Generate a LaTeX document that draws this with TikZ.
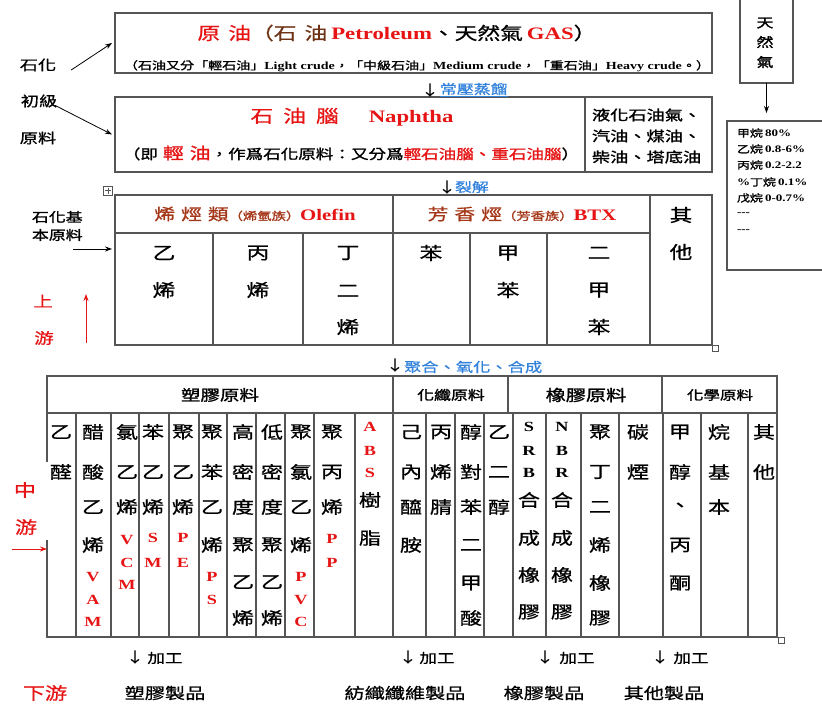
\documentclass[tikz,border=0pt]{standalone}
\usepackage{fontspec}
\setmainfont{Noto Sans CJK TC}[FakeStretch=1.3,FakeBold=0.8]
\newfontfamily\cjb{Noto Sans CJK TC}[FakeStretch=1.3,FakeBold=1.6]
\newfontfamily\lat{Liberation Serif}[FakeStretch=1.3]
\usetikzlibrary{arrows.meta}
\definecolor{myred}{RGB}{230,20,20}
\definecolor{mybrown}{RGB}{165,55,25}
\definecolor{dbrown}{RGB}{110,50,20}
\definecolor{myblue}{RGB}{50,130,220}
\definecolor{lc}{RGB}{85,85,85}
\newcommand\fs[1]{\fontsize{#1}{#1}\selectfont}
\newcommand\RLb[1]{\textcolor{myred}{\lat\bfseries #1}}
\newcommand\RL[1]{{\fs{14}\RLb{#1}}}
\newcommand\BL[1]{{\lat\bfseries #1}}
\newcommand\BLc[1]{{\fs{14}\lat\bfseries #1}}
\newcommand\gap[1]{\hspace{#1pt}}
\newcommand\colt[3]{\foreach \yy/\cc [count=\k] in {#3} {\node[cell] (#1-\k) at (#2,\yy) {\cc};}}
\begin{document}
\begin{tikzpicture}[x=1pt,y=-1pt,
 t/.style={inner sep=0pt,outer sep=0pt},
 cell/.style={t,font=\fs{17}},
 cellb/.style={t,font=\fs{17.5}},
 frame/.style={draw=lc,line width=1.1pt,inner sep=0pt,outer sep=0pt,anchor=north west},
 tl/.style={draw=lc,line width=1.1pt},
 arr/.style={-{Stealth[length=7pt,width=5pt]},line width=0.8pt},
 rarr/.style={arr,draw=myred,fill=myred},
]
\useasboundingbox (0,0) rectangle (822,704);

% ---------- box 1: crude oil
\node[frame,minimum width=597pt,minimum height=60pt] (crude) at (115,13) {};
\node[t,font=\fs{17.5}] (crudeT) at (397,33) {\color{myred}原\gap{8}油\color{dbrown}（石\gap{8}油\gap{4}\RLb{Petroleum}\color{black}、天然氣\gap{4}\RLb{GAS}）};
\node[t,font=\cjb\fs{10.8}] (crudeS) at (417,66) {（石油又分「輕石油」\BL{Light crude}，「中級石油」\BL{Medium crude}，「重石油」\BL{Heavy crude}。）};

% ---------- box 2: naphtha
\node[frame,minimum width=597pt,minimum height=75pt] (naph) at (115,97) {};
\draw[tl] (585,97) -- (585,172);
\node[t,font=\fs{17.5},text=myred] (naphT) at (352,117) {石\gap{10}油\gap{10}腦\gap{30}\lat\bfseries Naphtha};
\node[t,font=\cjb\fs{13.5}] (naphS) at (351,153) {（即\gap{5}{\color{myred}\fs{16}輕\gap{6}油}，作爲石化原料：又分爲{\color{myred}輕石油腦、重石油腦}）};
\node[t,font=\cjb\fs{14},anchor=west] (n1) at (592,115) {液化石油氣、};
\node[t,font=\cjb\fs{14},anchor=west] (n2) at (592,136) {汽油、煤油、};
\node[t,font=\cjb\fs{14},anchor=west] (n3) at (592,157) {柴油、塔底油};

% ---------- natural gas
\node[frame,minimum width=53pt,minimum height=90pt] (gas) at (740,-7) {};
\node[t,font=\cjb\fs{13}] (g1) at (765,23) {天};
\node[t,font=\cjb\fs{13}] (g2) at (765,42) {然};
\node[t,font=\cjb\fs{13}] (g3) at (765,62) {氣};
\node[frame,minimum width=110pt,minimum height=149pt] (comp) at (727,121) {};
\draw[arr,shorten >=8pt] (gas.south) -- (gas.south |- comp.north);
\node[t,font=\cjb\fs{10},anchor=west] (c1) at (737,133) {甲烷\gap{2}\BL{80\%}};
\node[t,font=\cjb\fs{10},anchor=west] (c2) at (737,149) {乙烷\gap{2}\BL{0.8-6\%}};
\node[t,font=\cjb\fs{10},anchor=west] (c3) at (737,165) {丙烷\gap{2}\BL{0.2-2.2}};
\node[t,font=\cjb\fs{10},anchor=west] (c4) at (737,182) {\BL{\%}丁烷\gap{2}\BL{0.1\%}};
\node[t,font=\cjb\fs{10},anchor=west] (c5) at (737,198) {戊烷\gap{2}\BL{0-0.7\%}};
\node[t,font=\cjb\fs{10},anchor=west] (c6) at (737,214) {\BL{---}};
\node[t,font=\cjb\fs{10},anchor=west] (c7) at (737,231) {\BL{---}};

% ---------- left labels (primary)
\node[t,font=\fs{14}] (lab1) at (38,65) {石化};
\node[t,font=\fs{14}] (lab2) at (39,101) {初級};
\node[t,font=\fs{14}] (lab3) at (38,138) {原料};
\draw[arr] ([shift={(15,5)}]lab1.east) -- ([xshift=-3pt]crude.west);
\draw[arr] ([shift={(-2,-2)}]lab2.south east) -- ([xshift=-3pt]naph.west);

% ---------- step 1
\node[t,font=\fs{14}] (s1a) at (430,90) {↓};
\node[t,font=\fs{13},anchor=west,text=myblue] (s1) at (440,90) {\underline{常壓蒸餾}};

% ---------- step 2
\node[t,font=\fs{14}] (s2a) at (447,187) {↓};
\node[t,font=\fs{13},anchor=west,text=myblue] (s2) at (455,187) {裂解};

% ---------- table 3: basic materials
\node[draw=lc,line width=0.6pt,minimum size=9pt,inner sep=0pt] (move) at (108,190.5) {};
\draw[lc,line width=0.6pt] (108,187.5) -- (108,193.5) (105,190.5) -- (111,190.5);
\node[frame,minimum width=597pt,minimum height=150pt] (basic) at (115,195) {};
\draw[tl] (115,233) -- (650,233);
\draw[tl] (393,195) -- (393,345);
\draw[tl] (650,195) -- (650,345);
\foreach \x in {213,303,470,547} \draw[tl] (\x,233) -- (\x,345);
\node[draw=lc,line width=0.6pt,minimum size=6pt,inner sep=0pt] (cs1) at (715,348) {};

\node[t,font=\fs{16},text=mybrown] (olef) at (255,214) {烯\gap{6}烴\gap{6}類{\cjb\fs{11}（烯氫族）}\RLb{Olefin}};
\node[t,font=\fs{16},text=mybrown] (btx) at (522,214) {芳\gap{6}香\gap{6}烴{\cjb\fs{11}（芳香族）}\RLb{BTX}};
\node[cellb] (o1) at (681,215) {其};
\node[cellb] (o2) at (681,252) {他};
\node[cellb] (e1) at (164,253) {乙};
\node[cellb] (e2) at (164,290) {烯};
\node[cellb] (p1) at (258,253) {丙};
\node[cellb] (p2) at (258,290) {烯};
\node[cellb] (b1) at (348,253) {丁};
\node[cellb] (b2) at (348,291) {二};
\node[cellb] (b3) at (348,327) {烯};
\node[cellb] (bz) at (431,253) {苯};
\node[cellb] (t1) at (508,253) {甲};
\node[cellb] (t2) at (508,290) {苯};
\node[cellb] (x1) at (599,253) {二};
\node[cellb] (x2) at (599,290) {甲};
\node[cellb] (x3) at (599,327) {苯};

\node[t,font=\cjb\fontsize{13}{18}\selectfont,align=left,anchor=west] (lab4) at (32,226) {石化基\\本原料};
\coordinate (a3) at (73,249);
\draw[arr] (a3) -- ([xshift=-3pt]a3 -| basic.west);

\node[t,font=\fs{15},text=myred] (up1) at (43,301) {上};
\node[t,font=\fs{15},text=myred] (up2) at (44,338) {游};
\coordinate (ua1) at (86,343);
\coordinate (ua2) at (86,294);
\draw[rarr] (ua1) -- (ua2);

% ---------- step 3
\node[t,font=\fs{14}] (s3a) at (395,365) {↓};
\node[t,font=\fs{13.3},anchor=west,text=myblue] (s3) at (404,367) {聚合、氧化、合成};

% ---------- table 4: intermediate
\coordinate (midNW) at (47,376);
\draw[tl] (47,462) -- (midNW) -- (777,376) -- (777,637) -- (47,637) -- (47,540);
\draw[tl] (47,413) -- (777,413);
\foreach \x in {393,508,662} \draw[tl] (\x,376) -- (\x,413);
\foreach \x in {76,111,139,169,199,227,256,285,314,355,393,426,455,484,513,546,581,619,663,701,748} \draw[tl] (\x,413) -- (\x,637);
\node[draw=lc,line width=0.6pt,minimum size=6pt,inner sep=0pt] (cs2) at (781,640) {};

\node[t,font=\cjb\fs{15}] (h1) at (220,395) {塑膠原料};
\node[t,font=\cjb\fs{13}] (h2) at (451,395) {化纖原料};
\node[t,font=\cjb\fs{15.5}] (h3) at (586,395) {橡膠原料};
\node[t,font=\cjb\fs{12.7}] (h4) at (720,395) {化學原料};

\colt{k1}{61}{432/乙,472/醛}
\colt{k2}{93}{432/醋,472/酸,507/乙,545/烯,577/\RL{V},600/\RL{A},622/\RL{M}}
\colt{k3}{127}{432/氯,472/乙,507/烯,540/\RL{V},563/\RL{C},585/\RL{M}}
\colt{k4}{153}{432/苯,472/乙,507/烯,538/\RL{S},563/\RL{M}}
\colt{k5}{183}{432/聚,472/乙,507/烯,538/\RL{P},563/\RL{E}}
\colt{k6}{212}{432/聚,472/苯,507/乙,545/烯,577/\RL{P},600/\RL{S}}
\colt{k7}{243}{432/高,472/密,507/度,545/聚,582/乙,618/烯}
\colt{k8}{272}{432/低,472/密,507/度,545/聚,582/乙,618/烯}
\colt{k9}{301}{432/聚,472/氯,507/乙,545/烯,577/\RL{P},600/\RL{V},622/\RL{C}}
\colt{k10}{332}{432/聚,472/丙,507/烯,539/\RL{P},563/\RL{P}}
\colt{k11}{370}{427/\RL{A},451/\RL{B},473/\RL{S},500/樹,538/脂}
\colt{k12}{411}{432/己,472/內,507/醯,545/胺}
\colt{k13}{441}{432/丙,472/烯,507/腈}
\colt{k14}{471}{432/醇,472/對,507/苯,545/二,583/甲,618/酸}
\colt{k15}{499}{432/乙,472/二,507/醇}
\colt{k16}{529}{427/\BLc{S},451/\BLc{R},473/\BLc{B},500/合,538/成,575/橡,612/膠}
\colt{k17}{562}{427/\BLc{N},451/\BLc{B},473/\BLc{R},500/合,538/成,575/橡,612/膠}
\colt{k18}{600}{432/聚,472/丁,507/二,545/烯,583/橡,618/膠}
\colt{k19}{638}{432/碳,472/煙}
\colt{k20}{680}{432/甲,472/醇,507/、,545/丙,583/酮}
\colt{k21}{719}{432/烷,472/基,507/本}
\colt{k22}{764}{432/其,472/他}

\node[t,font=\fs{17},text=myred] (md1) at (25,490) {中};
\node[t,font=\fs{17},text=myred] (md2) at (26,527) {游};
\coordinate (ma) at (12,549);
\draw[rarr] (ma) -- (ma -| midNW);

% ---------- processing
\foreach \ax/\tx [count=\i] in {135/165,408/437,545/577,660/691}{
  \node[t,font=\fs{14}] (pa\i) at (\ax,657) {↓};
  \node[t,font=\fs{13.5}] (pt\i) at (\tx,658) {加工};
}
\node[t,font=\fs{17},text=myred] (down) at (45,693) {下游};
\node[t,font=\fs{15.5}] (pr1) at (165,693) {塑膠製品};
\node[t,font=\fs{15.5}] (pr2) at (405,693) {紡織纖維製品};
\node[t,font=\fs{15.5}] (pr3) at (544,693) {橡膠製品};
\node[t,font=\fs{15.5}] (pr4) at (664,693) {其他製品};
\end{tikzpicture}
\end{document}
